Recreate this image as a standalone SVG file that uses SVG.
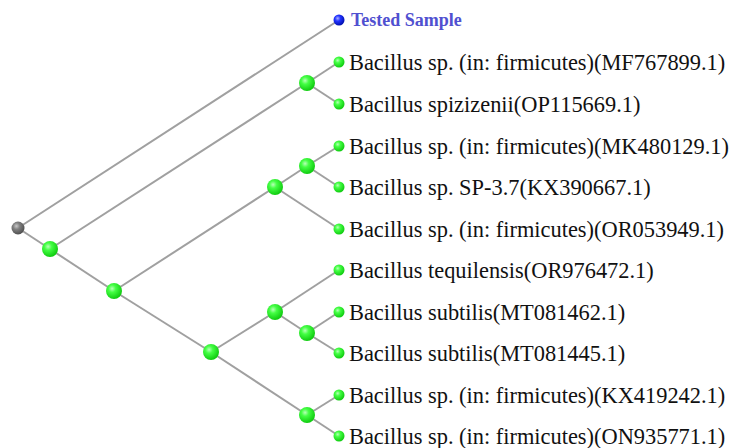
<svg xmlns="http://www.w3.org/2000/svg" width="733" height="448" viewBox="0 0 733 448">
<defs>
<radialGradient id="gG" cx="0.38" cy="0.35" r="0.65">
<stop offset="0" stop-color="#b8ffb8"/>
<stop offset="0.35" stop-color="#44ff44"/>
<stop offset="1" stop-color="#10cc10"/>
</radialGradient>
<radialGradient id="gB" cx="0.38" cy="0.35" r="0.65">
<stop offset="0" stop-color="#aab0ff"/>
<stop offset="0.4" stop-color="#2233ff"/>
<stop offset="1" stop-color="#0010b0"/>
</radialGradient>
<radialGradient id="gR" cx="0.38" cy="0.35" r="0.65">
<stop offset="0" stop-color="#c8c8c8"/>
<stop offset="0.4" stop-color="#808080"/>
<stop offset="1" stop-color="#505050"/>
</radialGradient>
</defs>
<style>
.e{stroke:#a0a0a0;stroke-width:2;fill:none}
.n{fill:url(#gG)}
.l{font-family:"Liberation Serif","Times New Roman",serif;font-size:22.4px;fill:#111}
.t{font-family:"Liberation Serif","Times New Roman",serif;font-size:18px;font-weight:bold;fill:#5050d0}
</style>
<rect width="733" height="448" fill="#fff"/>
<g id="edges">
<line class="e" x1="18" y1="228" x2="339" y2="20"/>
<line class="e" x1="18" y1="228" x2="50" y2="249"/>
<line class="e" x1="50" y1="249" x2="307" y2="83"/>
<line class="e" x1="50" y1="249" x2="114" y2="291"/>
<line class="e" x1="307" y1="83" x2="339" y2="62"/>
<line class="e" x1="307" y1="83" x2="339" y2="104"/>
<line class="e" x1="114" y1="291" x2="275" y2="187"/>
<line class="e" x1="114" y1="291" x2="211" y2="352"/>
<line class="e" x1="275" y1="187" x2="307" y2="166"/>
<line class="e" x1="275" y1="187" x2="339" y2="229"/>
<line class="e" x1="307" y1="166" x2="339" y2="146"/>
<line class="e" x1="307" y1="166" x2="339" y2="187"/>
<line class="e" x1="211" y1="352" x2="275" y2="312"/>
<line class="e" x1="211" y1="352" x2="307" y2="415"/>
<line class="e" x1="275" y1="312" x2="339" y2="270"/>
<line class="e" x1="275" y1="312" x2="307" y2="333"/>
<line class="e" x1="307" y1="333" x2="339" y2="312"/>
<line class="e" x1="307" y1="333" x2="339" y2="353"/>
<line class="e" x1="307" y1="415" x2="339" y2="395"/>
<line class="e" x1="307" y1="415" x2="339" y2="436"/>
</g>
<g id="root"><circle cx="18" cy="228" r="6.5" fill="url(#gR)"/></g>
<g id="nA"><circle class="n" cx="50" cy="249" r="8"/></g>
<g id="nB"><circle class="n" cx="114" cy="291" r="8"/></g>
<g id="nC"><circle class="n" cx="211" cy="352" r="8"/></g>
<g id="nD"><circle class="n" cx="307" cy="83" r="8"/></g>
<g id="nF"><circle class="n" cx="275" cy="187" r="8"/></g>
<g id="nE"><circle class="n" cx="307" cy="166" r="8"/></g>
<g id="nH"><circle class="n" cx="275" cy="312" r="8"/></g>
<g id="nG"><circle class="n" cx="307" cy="333" r="8"/></g>
<g id="nI"><circle class="n" cx="307" cy="415" r="8"/></g>
<g id="leaf0"><circle cx="339" cy="20" r="5.5" fill="url(#gB)"/><text class="t" x="351" y="26">Tested Sample</text></g>
<g id="leaf1"><circle class="n" cx="339" cy="62" r="5.5"/><text class="l" x="349" y="70">Bacillus sp. (in: firmicutes)(MF767899.1)</text></g>
<g id="leaf2"><circle class="n" cx="339" cy="104" r="5.5"/><text class="l" x="349" y="112">Bacillus spizizenii(OP115669.1)</text></g>
<g id="leaf3"><circle class="n" cx="339" cy="146" r="5.5"/><text class="l" x="349" y="154">Bacillus sp. (in: firmicutes)(MK480129.1)</text></g>
<g id="leaf4"><circle class="n" cx="339" cy="187" r="5.5"/><text class="l" x="349" y="195">Bacillus sp. SP-3.7(KX390667.1)</text></g>
<g id="leaf5"><circle class="n" cx="339" cy="229" r="5.5"/><text class="l" x="349" y="237">Bacillus sp. (in: firmicutes)(OR053949.1)</text></g>
<g id="leaf6"><circle class="n" cx="339" cy="270" r="5.5"/><text class="l" x="349" y="278">Bacillus tequilensis(OR976472.1)</text></g>
<g id="leaf7"><circle class="n" cx="339" cy="312" r="5.5"/><text class="l" x="349" y="320">Bacillus subtilis(MT081462.1)</text></g>
<g id="leaf8"><circle class="n" cx="339" cy="353" r="5.5"/><text class="l" x="349" y="361">Bacillus subtilis(MT081445.1)</text></g>
<g id="leaf9"><circle class="n" cx="339" cy="395" r="5.5"/><text class="l" x="349" y="403">Bacillus sp. (in: firmicutes)(KX419242.1)</text></g>
<g id="leaf10"><circle class="n" cx="339" cy="436" r="5.5"/><text class="l" x="349" y="444">Bacillus sp. (in: firmicutes)(ON935771.1)</text></g>
</svg>
